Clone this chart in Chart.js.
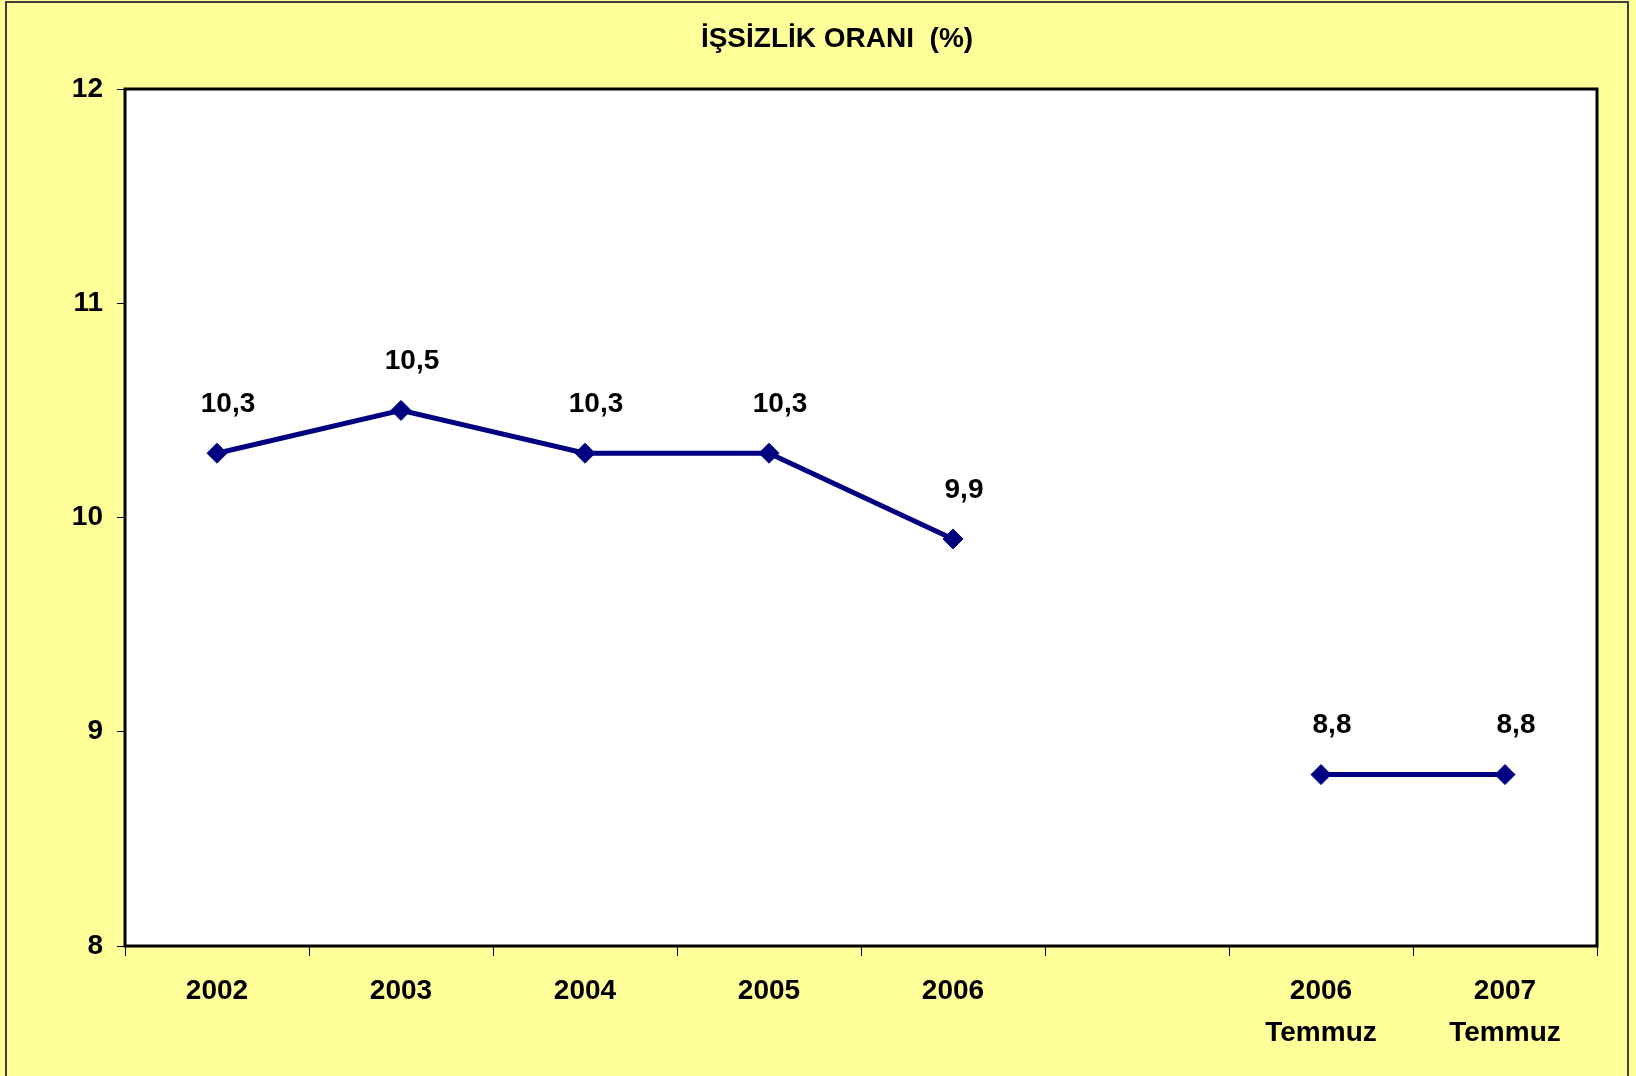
<!DOCTYPE html>
<html>
<head>
<meta charset="utf-8">
<script src="https://cdn.jsdelivr.net/npm/chart.js@4/dist/chart.umd.min.js"></script>
<style>
  body { margin: 0; background: #ffff99; }
</style>
</head>
<body>
<canvas id="issizlikChart" width="1636" height="1076"></canvas>
<script>
var titleText = "İŞSİZLİK ORANI  (%)";

var years = ["2002", "2003", "2004", "2005", "2006", "", ["2006", "Temmuz"], ["2007", "Temmuz"]];

var rates = [10.3, 10.5, 10.3, 10.3, 9.9, null, 8.8, 8.8];

var yTicks = [8, 9, 10, 11, 12];

var fontFamily = "'Liberation Sans', Arial, sans-serif";

// yellow page, white plot with black frame, title on top
var framePlugin = {
    id: 'frame',
    beforeDraw: function(chart) {
        var ctx = chart.ctx;
        var a = chart.chartArea;
        ctx.save();
        ctx.fillStyle = "#ffff99";
        ctx.fillRect(0, 0, chart.width, chart.height);
        ctx.fillStyle = "#ffffff";
        ctx.fillRect(a.left, a.top, a.right - a.left, a.bottom - a.top);
        ctx.restore();
    },
    afterDraw: function(chart) {
        var ctx = chart.ctx;
        var a = chart.chartArea;
        ctx.save();
        ctx.strokeStyle = "#000000";
        ctx.lineWidth = 3;
        ctx.strokeRect(a.left, a.top, a.right - a.left, a.bottom - a.top);
        ctx.strokeStyle = "#404040";
        ctx.lineWidth = 2;
        ctx.strokeRect(6, 2, 1622, 1100);
        ctx.fillStyle = "#000000";
        ctx.font = "bold 28px " + fontFamily;
        ctx.textAlign = "center";
        ctx.textBaseline = "middle";
        ctx.fillText(titleText, 837, 39);
        ctx.restore();
    }
};

// value labels over the points, comma decimals
var valueLabels = {
    id: 'valueLabels',
    afterDatasetsDraw: function(chart) {
        var ctx = chart.ctx;
        var meta = chart.getDatasetMeta(0);
        ctx.save();
        ctx.fillStyle = "#000000";
        ctx.font = "bold 28px " + fontFamily;
        ctx.textAlign = "center";
        ctx.textBaseline = "middle";
        meta.data.forEach(function(pt, i) {
            var v = rates[i];
            if (v === null) return;
            ctx.fillText(v.toFixed(1).replace('.', ','), pt.x + 11, pt.y - 49);
        });
        ctx.restore();
    }
};

var ctx = document.getElementById("issizlikChart").getContext("2d");

new Chart(ctx, {
    type: 'line',
    data: {
        labels: years,
        datasets: [{
            data: rates,
            borderColor: "#000080",
            backgroundColor: "#000080",
            borderWidth: 5,
            pointStyle: 'rectRot',
            pointRadius: 10,
            pointBorderWidth: 1,
            spanGaps: false,
            fill: false,
            tension: 0
        }]
    },
    options: {
        responsive: false,
        animation: false,
        layout: {
            padding: { top: 89, right: 39, left: 0, bottom: 0 }
        },
        plugins: {
            legend: { display: false },
            title: { display: false },
            tooltip: { enabled: false }
        },
        scales: {
            x: {
                offset: true,
                grid: {
                    offset: true,
                    drawOnChartArea: false,
                    color: "#000000",
                    lineWidth: 1,
                    tickLength: 10
                },
                border: { display: false },
                ticks: {
                    color: "#000000",
                    font: { family: fontFamily, size: 28, weight: 'bold', lineHeight: 1.5 },
                    padding: 14,
                    maxRotation: 0,
                    autoSkip: false
                },
                afterFit: function(scale) { scale.height = 130; }
            },
            y: {
                min: yTicks[0],
                max: yTicks[yTicks.length - 1],
                afterBuildTicks: function(scale) {
                    scale.ticks = yTicks.map(function(v) { return { value: v }; });
                },
                grid: {
                    drawOnChartArea: false,
                    color: "#000000",
                    lineWidth: 1,
                    tickLength: 8
                },
                border: { display: false },
                ticks: {
                    color: "#000000",
                    font: { family: fontFamily, size: 28, weight: 'bold' },
                    padding: 14
                },
                afterFit: function(scale) { scale.width = 125; }
            }
        }
    },
    plugins: [framePlugin, valueLabels]
});
</script>
</body>
</html>
